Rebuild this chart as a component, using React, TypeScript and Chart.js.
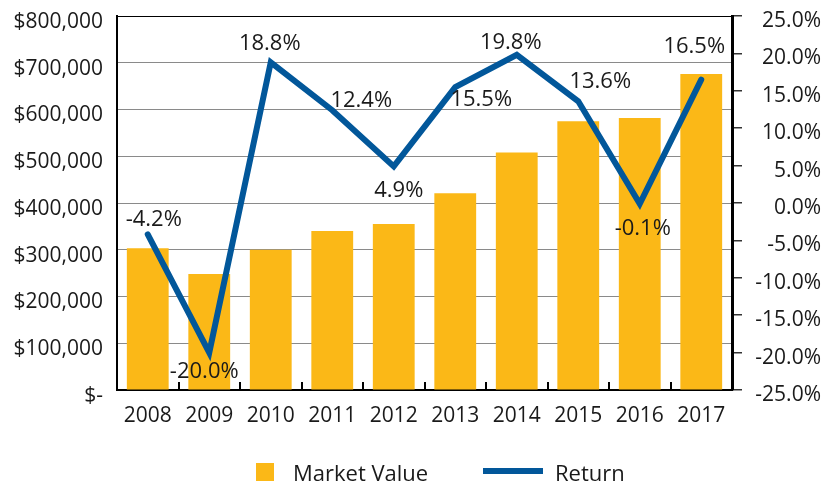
import React, { useEffect, useRef } from 'react';
import { Chart, registerables } from 'chart.js';

Chart.register(...registerables);

const years = ['2008', '2009', '2010', '2011', '2012', '2013', '2014', '2015', '2016', '2017'];
const marketValue = [303000, 248000, 300000, 340000, 355000, 421000, 508000, 575000, 582000, 676000];
const returnPct = [-4.2, -20.0, 18.8, 12.4, 4.9, 15.5, 19.8, 13.6, -0.1, 16.5];
const leftTicks = [0, 100000, 200000, 300000, 400000, 500000, 600000, 700000, 800000];
const rightTicks = [-25, -20, -15, -10, -5, 0, 5, 10, 15, 20, 25];

// label placement offsets (px) relative to each line point
const labelDx = [6, -5, -1, 29, 5, 26, -6, 22, 3, -7];
const labelDy = [-15, 19, -19, -10, 24, 13, -12, -20, 25, -33];

const FONT = '"Open Sans", "Noto Sans", sans-serif';
const GOLD = '#FBB817';
const BLUE = '#02579A';

const pointLabels = {
  id: 'pointLabels',
  afterDatasetsDraw(chart: any) {
    const meta = chart.getDatasetMeta(1);
    const ctx = chart.ctx;
    ctx.save();
    ctx.font = `22px ${FONT}`;
    ctx.fillStyle = '#1a1a1a';
    ctx.textAlign = 'center';
    ctx.textBaseline = 'middle';
    meta.data.forEach((el: any, i: number) => {
      ctx.fillText(returnPct[i].toFixed(1) + '%', el.x + labelDx[i], el.y + labelDy[i]);
    });
    ctx.restore();
  },
};

export default function App() {
  const ref = useRef<HTMLCanvasElement | null>(null);
  useEffect(() => {
    if (!ref.current) return;
    const chart = new Chart(ref.current, {
      type: 'bar',
      data: {
        labels: years,
        datasets: [
          {
            type: 'bar',
            label: 'Market Value',
            data: marketValue,
            backgroundColor: GOLD,
            yAxisID: 'y',
            order: 2,
            barPercentage: 0.85,
            categoryPercentage: 0.8,
          },
          {
            type: 'line',
            label: 'Return',
            data: returnPct,
            borderColor: BLUE,
            backgroundColor: BLUE,
            borderWidth: 6,
            pointRadius: 0,
            borderCapStyle: 'round',
            borderJoinStyle: 'miter',
            tension: 0,
            yAxisID: 'y1',
            order: 1,
          },
        ] as any,
      },
      options: {
        animation: false,
        responsive: false,
        maintainAspectRatio: false,
        layout: { padding: { top: 16, left: 0, right: 0, bottom: 0 } },
        plugins: {
          legend: { display: false },
          tooltip: { enabled: false },
        },
        scales: {
          x: {
            grid: {
              offset: true,
              drawOnChartArea: false,
              drawTicks: true,
              tickLength: -8,
              color: '#000',
              lineWidth: 2,
            },
            border: { color: '#000', width: 2 },
            ticks: { padding: 21, color: '#1a1a1a', font: { family: FONT, size: 21 } },
            afterFit: (s: any) => { s.height = 93; s.paddingLeft = 0; s.paddingRight = 0; },
          },
          y: {
            position: 'left',
            min: 0,
            max: 800000,
            afterBuildTicks: (s: any) => { s.ticks = leftTicks.map((v) => ({ value: v })); },
            grid: {
              drawTicks: false,
              color: (c: any) => (c.tick && c.tick.value === 800000 ? '#000' : '#8a8a8a'),
              lineWidth: 1,
            },
            border: { color: '#000', width: 2 },
            ticks: {
              padding: 14,
              labelOffset: 6,
              color: '#1a1a1a',
              font: { family: FONT, size: 21 },
              callback: (v: any) => (Number(v) === 0 ? '$-' : '$' + Number(v).toLocaleString('en-US')),
            },
            afterFit: (s: any) => { s.width = 117; s.paddingTop = 0; s.paddingBottom = 0; },
          },
          y1: {
            position: 'right',
            min: -25,
            max: 25,
            afterBuildTicks: (s: any) => { s.ticks = rightTicks.map((v) => ({ value: v })); },
            grid: {
              drawOnChartArea: false,
              drawTicks: true,
              tickLength: 10,
              color: '#333',
              lineWidth: 1.5,
            },
            border: { color: '#000', width: 3 },
            ticks: {
              padding: 6,
              labelOffset: 5,
              crossAlign: 'far',
              color: '#1a1a1a',
              font: { family: FONT, size: 21 },
              callback: (v: any) => Number(v).toFixed(1) + '%',
            },
            afterFit: (s: any) => { s.width = 89; s.paddingTop = 0; s.paddingBottom = 0; },
          },
        },
      } as any,
      plugins: [pointLabels],
    });
    return () => chart.destroy();
  }, []);

  return (
    <div style={{ position: 'absolute', left: 0, top: 0, width: 821, height: 483, background: '#fff', overflow: 'hidden' }}>
      <canvas ref={ref} width={821} height={483} style={{ display: 'block', width: 821, height: 483 }} />
      <div style={{ position: 'absolute', left: 256, top: 463, width: 18, height: 18, background: GOLD }} />
      <span style={{ position: 'absolute', left: 293, top: 457, fontFamily: FONT, fontSize: 22, lineHeight: '30px', color: '#1a1a1a', whiteSpace: 'nowrap' }}>Market Value</span>
      <div style={{ position: 'absolute', left: 483, top: 468, width: 60, height: 6, background: BLUE }} />
      <span style={{ position: 'absolute', left: 555, top: 457, fontFamily: FONT, fontSize: 22, lineHeight: '30px', color: '#1a1a1a', whiteSpace: 'nowrap' }}>Return</span>
    </div>
  );
}
